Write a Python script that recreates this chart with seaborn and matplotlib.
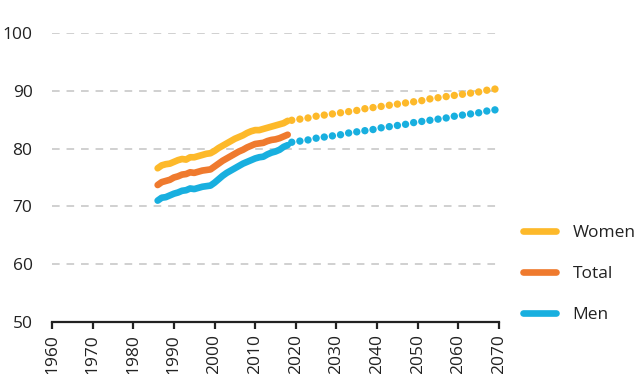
import matplotlib
matplotlib.use("Agg")
import matplotlib.pyplot as plt
from matplotlib.lines import Line2D
import seaborn as sns
import pandas as pd

# ---- data ----
hist_years = list(range(1986, 2019))
women_hist = [76.6, 77.1, 77.3, 77.4, 77.7, 78.0, 78.2, 78.1, 78.5, 78.5, 78.7, 78.9, 79.1, 79.2,
              79.6, 80.1, 80.5, 80.9, 81.3, 81.7, 82.0, 82.3, 82.7, 83.0, 83.2, 83.2, 83.4, 83.6,
              83.8, 84.0, 84.2, 84.4, 84.8]
total_hist = [73.7, 74.2, 74.4, 74.6, 75.0, 75.2, 75.5, 75.6, 75.9, 75.8, 76.0, 76.2, 76.3, 76.4,
              76.9, 77.4, 77.9, 78.3, 78.7, 79.1, 79.5, 79.8, 80.2, 80.5, 80.8, 80.9, 81.0, 81.3,
              81.5, 81.6, 81.8, 82.1, 82.4]
men_hist = [71.0, 71.5, 71.6, 71.9, 72.2, 72.4, 72.7, 72.8, 73.1, 73.0, 73.2, 73.4, 73.5, 73.6,
            74.1, 74.7, 75.3, 75.8, 76.2, 76.6, 77.0, 77.4, 77.7, 78.0, 78.3, 78.5, 78.6, 79.0,
            79.3, 79.5, 79.8, 80.3, 80.6]
proj_years = list(range(2019, 2070, 2))
women_proj = [84.9, 85.1, 85.3, 85.6, 85.8, 86.0, 86.2, 86.4, 86.6, 86.9, 87.1, 87.3, 87.5,
              87.7, 87.9, 88.1, 88.3, 88.6, 88.8, 89.0, 89.2, 89.4, 89.6, 89.8, 90.1, 90.3]
men_proj = [81.1, 81.3, 81.5, 81.8, 82.0, 82.2, 82.4, 82.7, 82.9, 83.1, 83.3, 83.6, 83.8,
            84.0, 84.2, 84.5, 84.7, 84.9, 85.1, 85.3, 85.6, 85.8, 86.0, 86.2, 86.5, 86.7]
x_ticks = list(range(1960, 2071, 10))
y_ticks = [50, 60, 70, 80, 90, 100]
series_names = ["Women", "Total", "Men"]

colors = {"Women": "#FDB92A", "Total": "#EF7A2E", "Men": "#18AFDF"}

hist = pd.DataFrame({
    "year": hist_years * 3,
    "value": women_hist + total_hist + men_hist,
    "series": ["Women"] * len(hist_years) + ["Total"] * len(hist_years) + ["Men"] * len(hist_years),
})
proj = pd.DataFrame({
    "year": proj_years * 2,
    "value": women_proj + men_proj,
    "series": ["Women"] * len(proj_years) + ["Men"] * len(proj_years),
})

sns.set_style("white")
plt.rcParams["font.family"] = ["Open Sans", "DejaVu Sans"]

fig = plt.figure(figsize=(6.39, 3.74), dpi=100)
ax = fig.add_axes([52 / 639, 1 - 322 / 374, (499 - 52) / 639, (322 - 33) / 374])

for yv in y_ticks[1:]:
    ax.axhline(yv, color="#C4C4C4", lw=1.1, dashes=(5, 4.5), zorder=0)

sns.lineplot(data=hist, x="year", y="value", hue="series", palette=colors,
             hue_order=series_names, lw=4.8, ax=ax, legend=False,
             solid_capstyle="round", solid_joinstyle="round")
sns.scatterplot(data=proj, x="year", y="value", hue="series", palette=colors,
                s=28, linewidth=0, ax=ax, legend=False)

ax.set_xlim(1960, 2070)
ax.set_ylim(50, 100)
ax.set_xticks(x_ticks)
ax.set_xticklabels([str(t) for t in x_ticks], rotation=90, fontsize=12.5, color="#222222")
ax.set_yticks(y_ticks)
ax.set_yticklabels([str(t) for t in y_ticks], fontsize=12.5, color="#222222")
ax.set_xlabel("")
ax.set_ylabel("")
for s in ["top", "right", "left"]:
    ax.spines[s].set_visible(False)
ax.spines["bottom"].set_color("#222222")
ax.spines["bottom"].set_linewidth(1.6)
ax.tick_params(axis="x", length=5, width=1.6, color="#222222", pad=4, direction="out", bottom=True)
ax.tick_params(axis="y", length=0, pad=14)
for c in ax.collections:
    c.set_clip_on(False)

handles = [Line2D([0], [0], color=colors[n], lw=4.8, solid_capstyle="round") for n in series_names]
fig.legend(handles, series_names, loc="center left", bbox_to_anchor=(523 / 639, 1 - 274 / 374),
           frameon=False, fontsize=12.5, handlelength=1.9, handletextpad=0.95,
           labelspacing=1.45, borderpad=0, borderaxespad=0, labelcolor="#222222")

fig.savefig("out.png", dpi=100)
